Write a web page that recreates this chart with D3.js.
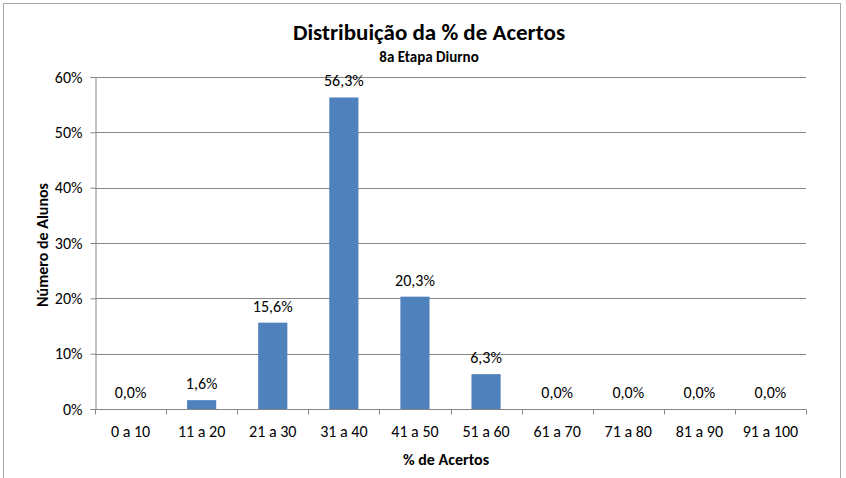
<!DOCTYPE html>
<html>
<head>
<meta charset="utf-8">
<script src="https://cdn.jsdelivr.net/npm/d3@7"></script>
<style>
  body { margin: 0; background: #fff; }
  text { font-family: Carlito, "Open Sans", "Noto Sans", sans-serif; fill: #000; }
</style>
</head>
<body>
<svg id="chart" width="846" height="478"></svg>
<script>
var categories = ["0 a 10", "11 a 20", "21 a 30", "31 a 40", "41 a 50", "51 a 60", "61 a 70", "71 a 80", "81 a 90", "91 a 100"];
var values = [0.0, 1.6, 15.6, 56.3, 20.3, 6.3, 0.0, 0.0, 0.0, 0.0];
var yTicks = [0, 10, 20, 30, 40, 50, 60];

var svg = d3.select("#chart");
var margin = {top: 77, right: 40, bottom: 69, left: 95};
var width = 846 - margin.left - margin.right,
    height = 478 - margin.top - margin.bottom;

// outer chart frame
svg.append("rect")
    .attr("x", 3.5).attr("y", 3.5)
    .attr("width", 837).attr("height", 500)
    .attr("fill", "none")
    .attr("stroke", "#a6a6a6");

var g = svg.append("g").attr("transform", "translate(" + margin.left + "," + margin.top + ")");

var x = d3.scaleBand().domain(categories).range([0, width]).paddingInner(0.59).paddingOuter(0.295);
var xb = d3.scaleBand().domain(categories).range([0, width]);
var y = d3.scaleLinear().domain([0, 60]).range([height, 0]);

// gridlines
g.append("g")
    .selectAll("line")
    .data(yTicks.slice(1))
    .enter().append("line")
        .attr("x1", 0).attr("x2", width)
        .attr("y1", function(d) { return Math.round(y(d)) + 0.5; })
        .attr("y2", function(d) { return Math.round(y(d)) + 0.5; })
        .attr("stroke", "#868686");

// y axis
var yAxis = g.append("g")
    .attr("transform", "translate(0.5,0)")
    .call(d3.axisLeft(y).tickValues(yTicks).tickSize(5).tickPadding(8).tickFormat(function(d) { return d + "%"; }));
yAxis.select(".domain").attr("stroke", "#868686");
yAxis.selectAll(".tick line").attr("stroke", "#868686");
yAxis.selectAll(".tick text").style("font-size", "16px");

// bars
g.selectAll(".bar")
    .data(values)
    .enter().append("rect")
        .attr("class", "bar")
        .attr("x", function(d, i) { return x(categories[i]); })
        .attr("width", x.bandwidth())
        .attr("y", function(d) { return y(d); })
        .attr("height", function(d) { return height - y(d); })
        .attr("fill", "#4f81bd");

// value labels
g.selectAll(".label")
    .data(values)
    .enter().append("text")
        .attr("class", "label")
        .attr("x", function(d, i) { return x(categories[i]) + x.bandwidth() / 2; })
        .attr("y", function(d) { return y(d) - 11; })
        .attr("text-anchor", "middle")
        .style("font-size", "16px")
        .text(function(d) { return d.toFixed(1).replace(".", ",") + "%"; });

// x axis (ticks at band boundaries)
var xAxis = g.append("g").attr("transform", "translate(0," + (height + 0.5) + ")");
xAxis.append("line")
    .attr("x1", 0).attr("x2", width)
    .attr("stroke", "#868686");
xAxis.selectAll(".xtick")
    .data(categories.concat([null]))
    .enter().append("line")
        .attr("class", "xtick")
        .attr("x1", function(d, i) { return Math.round(i * xb.step()) + 0.5; })
        .attr("x2", function(d, i) { return Math.round(i * xb.step()) + 0.5; })
        .attr("y1", 0).attr("y2", 5)
        .attr("stroke", "#868686");
xAxis.selectAll(".xlabel")
    .data(categories)
    .enter().append("text")
        .attr("class", "xlabel")
        .attr("x", function(d) { return xb(d) + xb.bandwidth() / 2; })
        .attr("y", 27)
        .attr("text-anchor", "middle")
        .style("font-size", "16px")
        .text(function(d) { return d; });

// titles
svg.append("text")
    .attr("x", 429).attr("y", 40)
    .attr("text-anchor", "middle")
    .style("font-size", "23px").style("font-weight", "bold")
    .text("Distribuição da % de Acertos");
svg.append("text")
    .attr("x", 429).attr("y", 62)
    .attr("text-anchor", "middle")
    .style("font-size", "15px").style("font-weight", "bold")
    .text("8a Etapa Diurno");
svg.append("text")
    .attr("x", 446).attr("y", 465)
    .attr("text-anchor", "middle")
    .style("font-size", "16px").style("font-weight", "bold")
    .text("% de Acertos");
svg.append("text")
    .attr("transform", "translate(48,245) rotate(-90)")
    .attr("text-anchor", "middle")
    .style("font-size", "16px").style("font-weight", "bold")
    .text("Número de Alunos");
</script>
</body>
</html>
